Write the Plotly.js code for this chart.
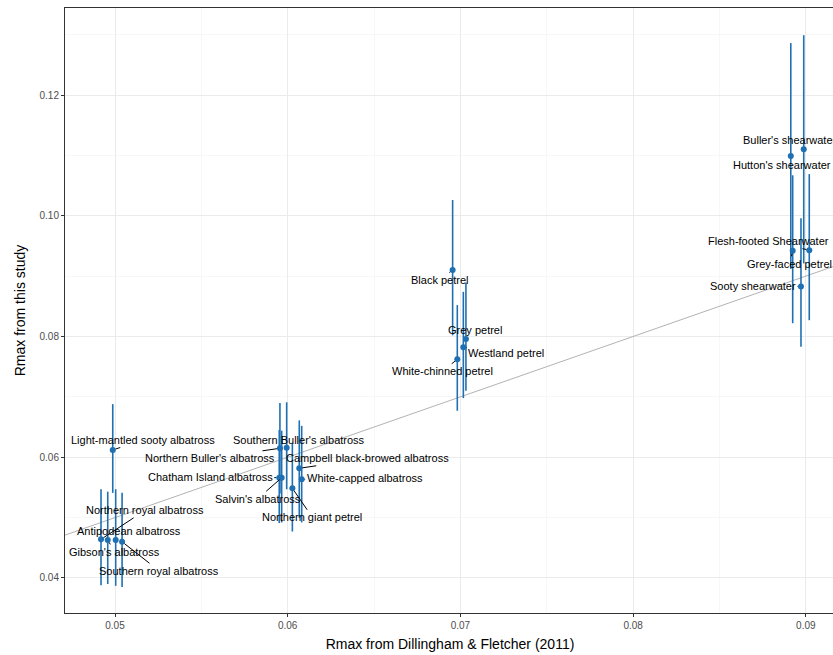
<!DOCTYPE html>
<html>
<head>
<meta charset="utf-8">
<script src="https://cdn.plot.ly/plotly-3.0.1.min.js"></script>
<style>
html,body{margin:0;padding:0;overflow:hidden;background:#fff;}
#chart{width:833px;height:655px;}
</style>
</head>
<body>
<div id="chart"></div>
<script>
// ---- data ----
const species = [
  "Light-mantled sooty albatross","Northern royal albatross","Gibson's albatross","Antipodean albatross","Southern royal albatross",
  "Southern Buller's albatross","Northern Buller's albatross","Campbell black-browed albatross","Chatham Island albatross",
  "White-capped albatross","Salvin's albatross","Northern giant petrel",
  "Black petrel","Grey petrel","Westland petrel","White-chinned petrel",
  "Buller's shearwater","Hutton's shearwater","Flesh-footed Shearwater","Grey-faced petrel","Sooty shearwater"
];
const rmaxDF = [
  0.04987,0.04919,0.04958,0.05004,0.05041,
  0.05994,0.05955,0.06067,0.05951,0.06081,0.05965,0.06027,
  0.06955,0.07032,0.07017,0.06982,
  0.08988,0.08913,0.09020,0.08924,0.08972
];
const rmaxStudy = [
  0.0612,0.0464,0.0463,0.0463,0.0460,
  0.06158,0.06148,0.05817,0.05661,0.05635,0.0566,0.05486,
  0.09101,0.07959,0.07821,0.07622,
  0.1110,0.1099,0.0943,0.0942,0.0883
];
const lowerCI = [
  0.0541,0.0388,0.0390,0.0387,0.0385,
  0.0547,0.0540,0.0500,0.0491,0.0492,0.0492,0.0477,
  0.0802,0.0710,0.0698,0.0677,
  0.0921,0.0912,0.0827,0.0822,0.0783
];
const upperCI = [
  0.0688,0.0547,0.0543,0.0547,0.0541,
  0.0691,0.0690,0.0661,0.0645,0.0652,0.0644,0.0623,
  0.1026,0.0889,0.0874,0.0852,
  0.1299,0.1286,0.1069,0.1067,0.0996
];
const oneToOne = [0.03, 0.14];

// ---- label placement (pixel offsets, layout only) ----
const labelDX = [30,44,7,13,37, 12,-70,68,-69,63,-24,20, -13,9,43,-15, -14,-9,-41,-3,-48];
const labelDY = [-10,-29,12,-9,29, -8,10,-10,-1,-1,21,29, 10,-9,6,12, -9,9,-9,13,0];

const blue = '#1f70b3';

const traces = [
  {
    type:'scatter', mode:'lines', x:oneToOne, y:oneToOne,
    line:{color:'#b3b3b3', width:1}, hoverinfo:'skip', showlegend:false
  },
  {
    type:'scatter', mode:'markers', x:rmaxDF, y:rmaxStudy, text:species,
    marker:{color:blue, size:6},
    error_y:{
      type:'data', symmetric:false,
      array: upperCI.map((u,i)=>u-rmaxStudy[i]),
      arrayminus: lowerCI.map((l,i)=>rmaxStudy[i]-l),
      color:blue, thickness:1.6, width:0
    },
    showlegend:false
  }
];

const annotations = species.map((s,i)=>({
  x: rmaxDF[i], y: rmaxStudy[i], xref:'x', yref:'y',
  text: s, showarrow:true, arrowhead:0, arrowwidth:1, arrowcolor:'#000',
  ax: labelDX[i], ay: labelDY[i], standoff:3,
  font:{family:'Liberation Sans, Arial, sans-serif', size:11, color:'#000'}
}));

const axisCommon = {
  showline:true, mirror:true, linecolor:'#333333', linewidth:1,
  ticks:'outside', ticklen:3, tickcolor:'#333333', tickwidth:1,
  showgrid:true, gridcolor:'#ebebeb', gridwidth:1,
  zeroline:false,
  tickfont:{family:'Liberation Sans, Arial, sans-serif', size:10, color:'#4d4d4d'},
  minor:{showgrid:true, gridcolor:'#f2f2f2', gridwidth:0.6, ticks:''}
};

const layout = {
  width:840, height:655,
  margin:{l:65, r:5, t:8, b:42},
  paper_bgcolor:'#fff', plot_bgcolor:'#fff',
  font:{family:'Liberation Sans, Arial, sans-serif'},
  xaxis: Object.assign({}, axisCommon, {
    range:[0.047105, 0.09169], tickvals:[0.05,0.06,0.07,0.08,0.09],
    ticktext:['0.05','0.06','0.07','0.08','0.09'],
    minor:{showgrid:true, gridcolor:'#f2f2f2', gridwidth:0.6, tickvals:[0.045,0.055,0.065,0.075,0.085,0.095]},
    title:{text:'Rmax from Dillingham &amp; Fletcher (2011)', font:{size:14, color:'#000'}, standoff:9}
  }),
  yaxis: Object.assign({}, axisCommon, {
    range:[0.0342, 0.13441], tickvals:[0.04,0.06,0.08,0.10,0.12],
    ticktext:['0.04','0.06','0.08','0.10','0.12'],
    minor:{showgrid:true, gridcolor:'#f2f2f2', gridwidth:0.6, tickvals:[0.03,0.05,0.07,0.09,0.11,0.13]},
    title:{text:'Rmax from this study', font:{size:14, color:'#000'}, standoff:10}
  }),
  annotations: annotations
};

Plotly.newPlot('chart', traces, layout, {staticPlot:true, displayModeBar:false});
</script>
</body>
</html>
